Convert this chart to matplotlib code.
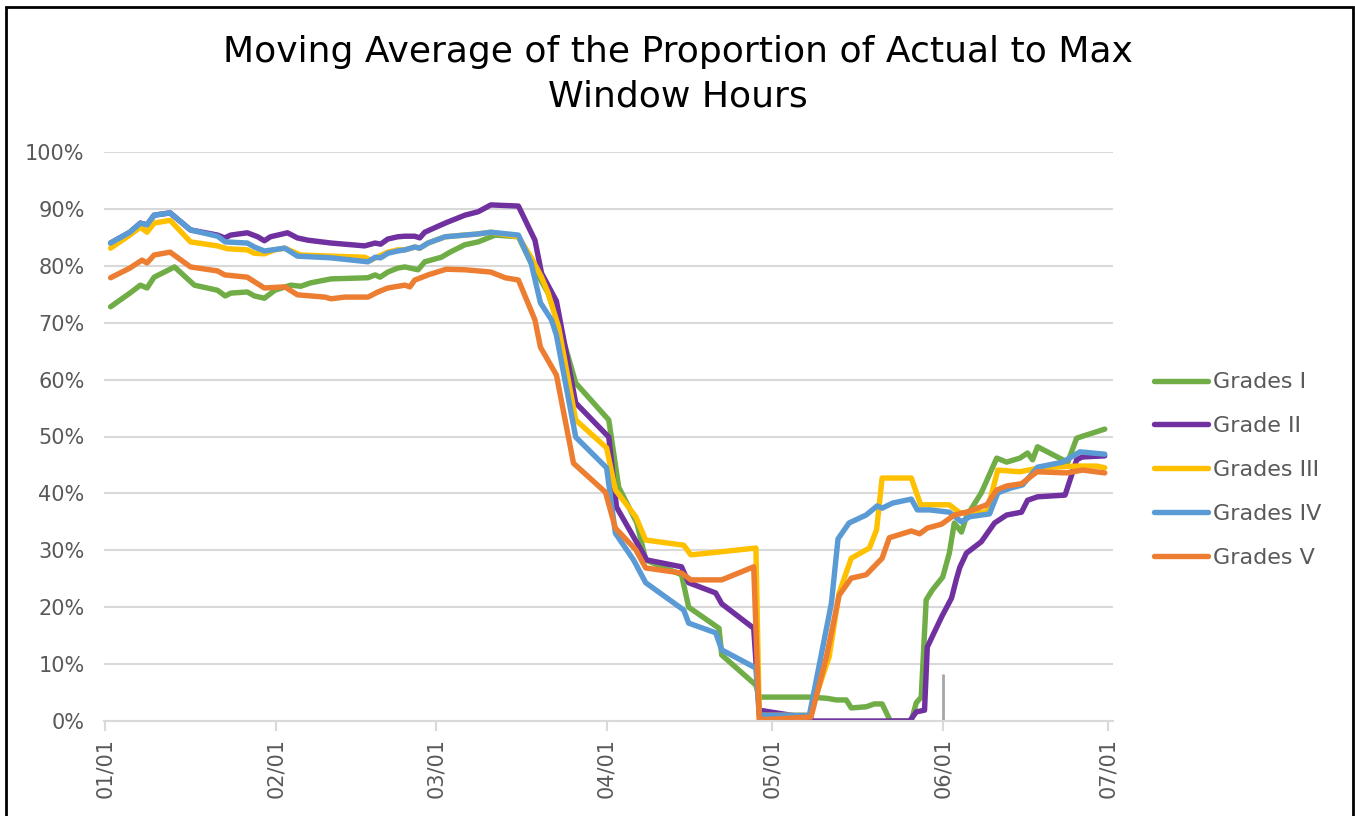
import numpy as np
import matplotlib
matplotlib.use("Agg")
import matplotlib.pyplot as plt
import matplotlib.dates as mdates
from matplotlib.ticker import PercentFormatter
from matplotlib.patches import Rectangle

# days since 2020-01-01, values in percent
g1_days = [1, 4.5, 6.4, 7.6, 8.9, 12.6, 16.2, 20.4, 21.8, 22.8, 25.8, 27.1, 28.9, 30.8, 33.7, 35.5,
           37.3, 41, 47.7, 49, 49.9, 51.3, 53.1, 54.4, 56.8, 58, 61, 62.6, 65.3, 67.7, 70.8, 75,
           77.3, 80.4, 82.8, 85.4, 91.4, 93.2, 96.5, 98.1, 104.6, 105.9, 111.4, 111.9, 118.1, 118.7,
           127.8, 130.9, 132.7, 134.5, 135.4, 138.1, 139.6, 141, 142.5, 146.3, 147.2, 148.1, 149,
           150.1, 152, 153.2, 154.1, 155.4, 156.3, 159, 161.8, 163.6, 166, 167.4, 168.3, 169.2,
           173.8, 174.7, 176.3, 178.2, 181.4]
g1_vals = [72.8, 75.2, 76.6, 76.1, 78.0, 79.8, 76.6, 75.7, 74.7, 75.2, 75.4, 74.7, 74.3, 75.7, 76.6, 76.4,
           77.0, 77.7, 77.9, 78.4, 78.0, 78.9, 79.6, 79.8, 79.3, 80.7, 81.5, 82.4, 83.7, 84.2, 85.4, 85.1,
           80.5, 75.2, 68.2, 59.4, 52.9, 41.1, 34.8, 28.3, 25.7, 20.0, 16.3, 11.6, 6.3, 4.2,
           4.2, 4.0, 3.7, 3.7, 2.3, 2.5, 3.0, 3.0, 0.0, 0.0, 3.2, 4.2, 21.3,
           23.0, 25.3, 29.5, 34.8, 33.2, 35.9, 40.1, 46.2, 45.5, 46.2, 47.1, 45.9, 48.2,
           45.9, 45.5, 49.7, 50.3, 51.3]

g2_days = [1, 4.5, 6.4, 7.6, 8.9, 11.8, 15.5, 20.4, 21.7, 22.8, 25.8, 27.7, 28.9, 30, 33.1, 34.9,
           36.8, 41, 47.1, 49, 50, 51.3, 53.1, 54.4, 56.2, 57.1, 58, 61, 62.2, 65.3, 67.7, 70, 75,
           78, 79.2, 81.9, 85.4, 91, 91.4, 92.8, 98.3, 104.6, 105.9, 110.8, 111.9, 117.7, 118.7,
           127.8, 128.5, 146, 147.2, 148.7, 149.2, 151.8, 153.6, 154.5, 155.1, 156.3, 159, 161.4,
           163.6, 166.3, 167.4, 169.2, 174.2, 176.3, 177.3, 181.4]
g2_vals = [84.0, 85.9, 87.5, 87.2, 88.9, 89.3, 86.3, 85.4, 84.9, 85.4, 85.8, 85.1, 84.4, 85.1, 85.8, 84.9,
           84.5, 84.0, 83.5, 84.0, 83.8, 84.7, 85.1, 85.2, 85.2, 84.9, 85.9, 87.2, 87.7, 88.9, 89.5, 90.7, 90.5,
           84.5, 78.7, 73.8, 55.9, 50.3, 49.9, 37.6, 28.3, 27.1, 24.3, 22.5, 20.6, 16.3, 1.9,
           0.5, 0.0, 0.0, 1.6, 1.9, 13.0, 18.3, 21.6, 25.0, 27.0, 29.5, 31.5, 34.8,
           36.2, 36.7, 38.8, 39.4, 39.7, 45.9, 46.4, 46.6]

g3_days = [1, 4.5, 6.4, 7.6, 8.9, 11.8, 15.5, 20.4, 22.2, 25.8, 27.1, 28.9, 30.8, 32.6, 35.5, 41,
           47.1, 48.2, 51.3, 53.1, 54.4, 56.2, 57.1, 58.6, 61.7, 65.3, 67.7, 70, 75, 77.3, 79.2,
           80.4, 82.3, 85.4, 91, 92.6, 96.3, 98.1, 105, 106.3, 111.4, 118.1, 118.7, 127.8, 131.4,
           133.2, 135.4, 138.7, 140, 141, 146.3, 148, 153.2, 155.1, 160, 162, 166, 169.6, 176.3,
           180, 181.4]
g3_vals = [83.1, 85.4, 86.8, 85.9, 87.5, 88.0, 84.2, 83.5, 83.0, 82.8, 82.2, 82.1, 82.8, 83.1, 81.9, 81.7,
           81.5, 81.0, 82.4, 82.8, 82.8, 83.3, 83.1, 84.0, 85.1, 85.4, 85.6, 85.9, 85.1, 81.5, 78.0,
           75.2, 69.2, 52.9, 48.0, 40.6, 35.9, 31.8, 30.9, 29.2, 29.7, 30.4, 1.0, 1.0, 11.3,
           22.5, 28.6, 30.4, 33.6, 42.7, 42.7, 38.0, 38.0, 36.6, 36.7, 44.1, 43.8, 44.5, 44.8,
           44.8, 44.5]

g4_days = [1, 4.5, 6.4, 7.6, 8.9, 11.8, 15.5, 20.4, 21.8, 25.8, 27.1, 28.9, 32.6, 34.9, 41, 47.7,
           49, 50, 51.3, 53.1, 54.4, 56.2, 57.1, 58.6, 61.7, 65.3, 67.7, 70, 75, 77.3, 79, 81,
           81.9, 85.4, 91, 92.6, 95.9, 98.1, 105, 105.9, 110.8, 111.9, 118.1, 118.7, 127.8, 131.8,
           133, 135, 138.1, 140.1, 141, 142.9, 146.3, 147.4, 149.6, 153.2, 155.4, 156.9, 160.5,
           162, 164.2, 166.5, 169.2, 173.8, 176.9, 181.4]
g4_vals = [84.0, 85.9, 87.5, 87.2, 88.9, 89.3, 86.3, 85.2, 84.2, 84.0, 83.3, 82.6, 83.1, 81.7, 81.4, 80.7,
           81.5, 81.4, 82.2, 82.6, 82.8, 83.3, 83.1, 84.0, 85.1, 85.4, 85.6, 85.9, 85.4, 80.5, 73.5, 70.5,
           67.8, 49.9, 44.5, 33.0, 28.3, 24.3, 19.5, 17.2, 15.5, 12.5, 9.3, 1.0, 1.0, 20.7,
           32.0, 34.8, 36.2, 37.8, 37.4, 38.3, 39.0, 37.1, 37.1, 36.7, 35.0, 35.9, 36.4,
           40.1, 40.9, 41.5, 44.6, 45.5, 47.3, 46.9]

g5_days = [1, 4.5, 6.7, 7.6, 8.9, 11.8, 15.5, 20.4, 21.7, 25.8, 27.1, 28.9, 32.6, 34.9, 39.9, 41,
           43.5, 47.7, 49.5, 51.3, 54.4, 55.3, 56.2, 57.3, 58.6, 61.9, 65.3, 70, 72.6, 75, 78, 79,
           81.9, 85, 90.8, 92.6, 96.3, 98.1, 104.6, 106.3, 111.9, 117.7, 118.7, 128.1, 130.9, 133.2,
           135.4, 138.1, 141, 142.3, 146.3, 147.8, 149.2, 151.8, 154.1, 156.3, 160, 161.8, 163.6,
           166.3, 169.1, 174.5, 177.4, 181.4]
g5_vals = [77.9, 79.6, 81.0, 80.5, 81.9, 82.4, 79.8, 79.1, 78.4, 78.0, 77.2, 76.1, 76.3, 74.9, 74.5, 74.2,
           74.5, 74.5, 75.4, 76.1, 76.6, 76.3, 77.5, 77.9, 78.4, 79.4, 79.3, 78.9, 77.9, 77.5, 70.5, 65.7,
           60.8, 45.3, 40.2, 33.9, 30.1, 26.9, 26.0, 24.8, 24.8, 27.1, 0.2, 0.7, 11.3, 22.1,
           25.1, 25.7, 28.6, 32.2, 33.4, 32.9, 33.9, 34.6, 36.2, 36.7, 38.0, 40.6, 41.3,
           41.7, 43.8, 43.6, 44.1, 43.6]

series = [
    ("Grades I", g1_days, g1_vals, "#70AD47"),
    ("Grade II", g2_days, g2_vals, "#7030A0"),
    ("Grades III", g3_days, g3_vals, "#FFC000"),
    ("Grades IV", g4_days, g4_vals, "#5B9BD5"),
    ("Grades V", g5_days, g5_vals, "#ED7D31"),
]

base = np.datetime64("2020-01-01T00:00")


def to_dates(days):
    return base + (np.array(days) * 24 * 60).round().astype("timedelta64[m]")


plt.rcParams["font.family"] = ["DejaVu Sans"]
fig = plt.figure(figsize=(13.55, 8.16), dpi=100)
ax = fig.add_axes([104 / 1355, 1 - 721 / 816, (1113 - 104) / 1355, (721 - 152) / 816])

for name, d, v, c in series:
    ax.plot(to_dates(d), v, color=c, lw=3.9, label=name, solid_joinstyle="round", solid_capstyle="round")

# small marker bar at 06/01
ax.vlines(to_dates([152])[0], 0, 8.3, color="#a6a6a6", lw=2)

ax.set_ylim(0, 100)
ax.set_xlim(to_dates([-0.2])[0], to_dates([182.9])[0])
ax.yaxis.set_major_locator(plt.MultipleLocator(10))
ax.yaxis.set_major_formatter(PercentFormatter(xmax=100, decimals=0))
ax.xaxis.set_major_locator(mdates.MonthLocator())
ax.xaxis.set_major_formatter(mdates.DateFormatter("%m/%d"))
ax.grid(axis="y", color="#d9d9d9", lw=1.5)
ax.set_axisbelow(True)
for s in ["top", "right", "left"]:
    ax.spines[s].set_visible(False)
ax.spines["bottom"].set_color("#d9d9d9")
ax.spines["bottom"].set_linewidth(1.5)
ax.tick_params(axis="y", length=0, labelsize=15, labelcolor="#595959", pad=14)
ax.tick_params(axis="x", length=7, width=1.5, color="#d9d9d9", labelsize=15,
               labelcolor="#595959", labelrotation=90, pad=5)

fig.text(0.5, 1 - 74 / 816, "Moving Average of the Proportion of Actual to Max\nWindow Hours",
         ha="center", va="center", fontsize=26, color="black", linespacing=1.38)

leg = fig.legend(loc="center left", bbox_to_anchor=(1134 / 1355, 1 - 470 / 816), frameon=False,
                 fontsize=16, handlelength=2.45, handletextpad=0.22, labelspacing=1.07)
for t in leg.get_texts():
    t.set_color("#595959")

fig.patches.append(Rectangle((6 / 1355, -0.1), (1353 - 6) / 1355, 1.1 - 7 / 816,
                             transform=fig.transFigure, fill=False, ec="black", lw=2))

fig.savefig("out.png", dpi=100)
